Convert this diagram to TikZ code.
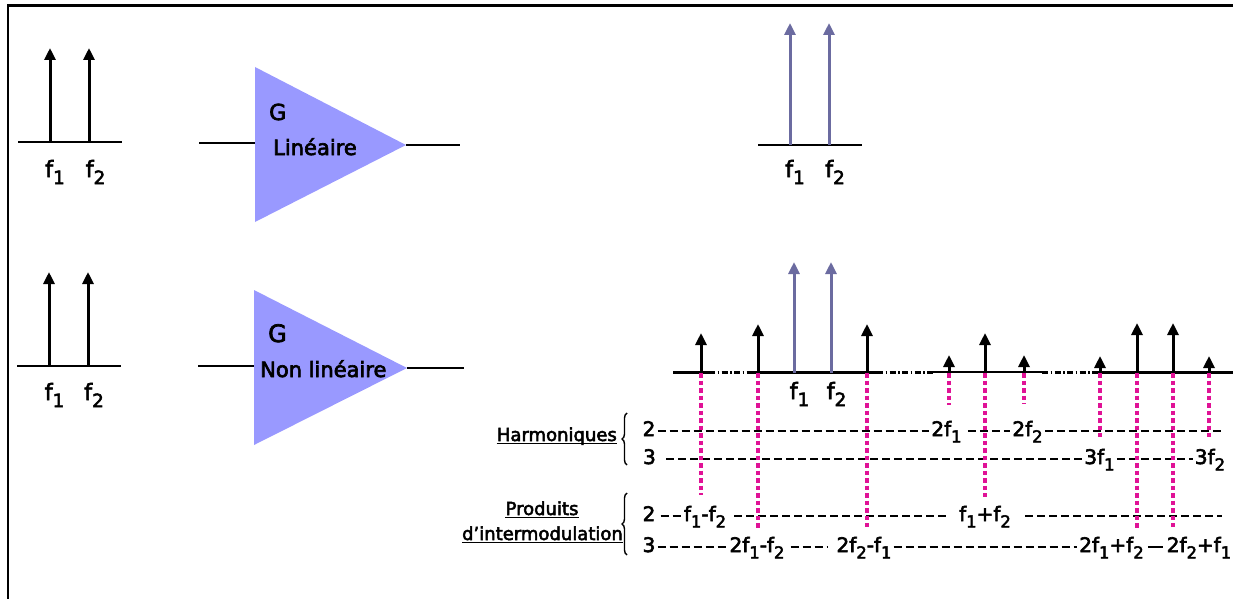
\documentclass[tikz,border=0pt]{standalone}
\usepackage{fontspec}
\setmainfont{DejaVu Sans}[FakeBold=3]
\usepackage{graphicx}
\usetikzlibrary{arrows.meta,decorations.pathreplacing}
\definecolor{ampfill}{RGB}{153,153,255}
\definecolor{tone}{RGB}{107,107,160}
\definecolor{prod}{RGB}{224,18,150}
% lowered index, as in f1, f2
\newcommand{\ix}[1]{\raisebox{-0.32em}{\scalebox{0.82}{#1}}}
\begin{document}
\begin{tikzpicture}[x=1pt,y=-1pt,
  frameln/.style={line width=2.4pt},
  axisln/.style={line width=2.2pt},
  spk/.style={line width=3pt,-{Triangle[width=11pt,length=12pt]}},
  spkblue/.style={spk,color=tone},
  amp/.style={fill=ampfill,draw=none},
  wire/.style={line width=2.2pt},
  flbl/.style={font=\fontsize{22.5}{26}\selectfont,anchor=base,inner sep=0pt},
  gain/.style={anchor=base west,inner sep=0pt},
  row/.style={font=\fontsize{20}{23}\selectfont,inner xsep=2pt,inner ysep=0pt,
              text height=13pt,text depth=3pt},
  side/.style={font=\fontsize{18}{21}\selectfont,inner sep=0pt},
  uline/.style={line width=1.6pt},
  dsh/.style={line width=2.5pt,dash pattern=on 8pt off 4pt},
  dashdot/.style={axisln,dash pattern=on 6pt off 2.5pt on 1.5pt off 2.5pt},
  imd/.style={color=prod,line width=4.5pt,dash pattern=on 4.5pt off 3pt},
  brc/.style={decorate,decoration={brace,amplitude=5pt},line width=1.4pt}
]
\useasboundingbox (0,0) rectangle (1233,599);

% outer frame (top and left edges)
\draw[frameln] (1233,5.7) -- (7.7,5.7) -- (7.7,599);

% ---------- linear amplifier ----------
% input spectrum
\draw[axisln] (18,141.7) -- (122,141.7);
\draw[spk] (50,141.7) -- (50,48);
\draw[spk] (89,141.7) -- (89,48);
\node[flbl] (in1a) at (55,177) {f\ix{1}};
\node[flbl] (in1b) at (95.5,177) {f\ix{2}};
% amplifier
\coordinate (a1in) at (199,143);
\coordinate (a1l) at (255,143);
\coordinate (a1out) at (406,145);
\coordinate (a1end) at (460,145);
\fill[amp] (255,67) -- (a1out) -- (255,222) -- cycle;
\draw[wire] (a1in) -- (a1l);
\draw[wire] (a1out) -- (a1end);
\node[gain,font=\fontsize{22}{25}\selectfont] (g1) at (269,120) {G};
\node[gain,font=\fontsize{21}{24}\selectfont] (lin1) at (273,155) {Linéaire};
% output spectrum
\draw[axisln] (758,145) -- (862,145);
\draw[spkblue] (790,145) -- (790,23);
\draw[spkblue] (829,145) -- (829,23);
\node[flbl] (out1a) at (795,177) {f\ix{1}};
\node[flbl] (out1b) at (835,177) {f\ix{2}};

% ---------- non-linear amplifier ----------
\draw[axisln] (17,366) -- (121,366);
\draw[spk] (49,366) -- (49,272);
\draw[spk] (88,366) -- (88,272);
\node[flbl] (in2a) at (54.5,400) {f\ix{1}};
\node[flbl] (in2b) at (94,400) {f\ix{2}};
\coordinate (a2in) at (198,366);
\coordinate (a2l) at (254,366);
\coordinate (a2out) at (407,368);
\coordinate (a2end) at (464,368);
\fill[amp] (254,290) -- (a2out) -- (254,445) -- cycle;
\draw[wire] (a2in) -- (a2l);
\draw[wire] (a2out) -- (a2end);
\node[gain,font=\fontsize{24}{27}\selectfont] (g2) at (268,342) {G};
\node[gain,font=\fontsize{21}{24}\selectfont] (lin2) at (260,377) {Non linéaire};

% output spectrum with distortion products
\draw[axisln] (673,372.5) -- (709,372.5);
\draw[dashdot] (709,372.5) -- (748,372.5);
\draw[axisln] (748,372.5) -- (877,372.5);
\draw[dashdot] (877,372.5) -- (933,372.5);
\draw[axisln] (933,372) -- (1042,372);
\draw[dashdot] (1042,372.5) -- (1092,372.5);
\draw[axisln] (1092,372.5) -- (1233,372.5);

\draw[spkblue] (794,372.5) -- (794,262);
\draw[spkblue] (831,372.5) -- (831,262);
\node[flbl] (out2a) at (799.5,399) {f\ix{1}};
\node[flbl] (out2b) at (836.5,399) {f\ix{2}};

\foreach \x/\t in {701/333,758/324,867/324,949/355,985/333,1024/355,1100/356,1137/323,1173/323,1209/356}
  \draw[spk] (\x,372.5) -- (\x,\t);

% ---------- product table ----------
\node[side,anchor=base east] (hm) at (617,441) {Harmoniques};
\draw[uline] ([yshift=-2.5pt]hm.base west) -- ([yshift=-2.5pt]hm.base east);
\draw[brc] (627,465) -- (627,413);

\node[side,anchor=base] (pr) at (542,515) {Produits};
\draw[uline] ([yshift=-2.5pt]pr.base west) -- ([yshift=-2.5pt]pr.base east);
\node[side,anchor=base east] (im) at (623,540) {d’intermodulation};
\draw[uline] ([yshift=-2.5pt]im.base west) -- ([yshift=-2.5pt]im.base east);
\draw[brc] (627,555) -- (627,493);

% harmonics of order 2
\node[row] (h2n) at (649,431) {2};
\node[row] (h2a) at (946.5,431) {2f\ix{1}};
\node[row] (h2b) at (1027.5,431) {2f\ix{2}};
\coordinate (h2e) at (1223,431);
\draw[dsh] (h2n.east) -- (h2a.west);
\draw[dsh,shorten <=4pt] (h2a.east) -- (h2b.west);
\draw[dsh] (h2b.east) -- (h2e);

% harmonics of order 3
\node[row] (h3n) at (649.5,459) {3};
\node[row] (h3a) at (1099.5,459) {3f\ix{1}};
\node[row] (h3b) at (1210,459) {3f\ix{2}};
\draw[dsh,shorten <=8pt] (h3n.east) -- (h3a.west);
\draw[dsh] (h3a.east) -- (h3b.west);

% intermodulation of order 2
\node[row] (p2n) at (649,516) {2};
\node[row] (p2a) at (705,516) {f\ix{1}-f\ix{2}};
\node[row] (p2b) at (985,516) {f\ix{1}+f\ix{2}};
\coordinate (p2e) at (1222,516);
\draw[dsh,shorten <=3pt] (p2n.east) -- (p2a.west);
\draw[dsh,shorten <=6pt,shorten >=9pt] (p2a.east) -- (p2b.west);
\draw[dsh,shorten <=12pt] (p2b.east) -- (p2e);

% intermodulation of order 3
\node[row] (p3n) at (649,547) {3};
\node[row] (p3a) at (757,547) {2f\ix{1}-f\ix{2}};
\node[row] (p3b) at (864,547) {2f\ix{2}-f\ix{1}};
\node[row] (p3c) at (1111.5,547) {2f\ix{1}+f\ix{2}};
\node[row] (p3d) at (1199,547) {2f\ix{2}+f\ix{1}};
\draw[dsh] (p3n.east) -- (p3a.west);
\draw[dsh,shorten <=4pt,shorten >=6pt] (p3a.east) -- (p3b.west);
\draw[dsh] (p3b.east) -- (p3c.west);
\draw[line width=2.2pt,shorten <=2pt,shorten >=2pt] (p3c.east) -- (p3d.west);

% projections of each product line onto the table
\foreach \x/\b in {701/495,758/528,867/527,949/405,985/497,1024/404,1100/437,1137/528,1173/527,1209/437}
  \draw[imd] (\x,373) -- (\x,\b);
\end{tikzpicture}
\end{document}
